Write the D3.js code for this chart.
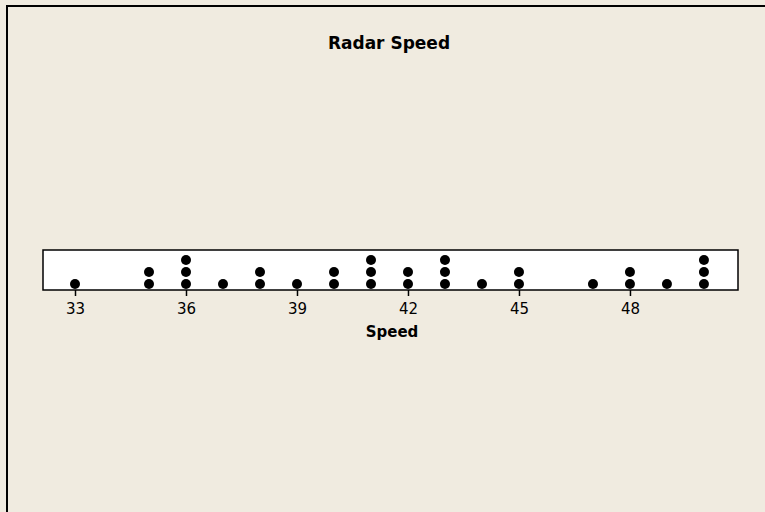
<!DOCTYPE html>
<html>
<head>
<meta charset="utf-8">
<script src="https://cdn.jsdelivr.net/npm/d3@7"></script>
<style>
  body { margin: 0; background: #f0ebe0; }
  svg { display: block; }
</style>
</head>
<body>
<div id="main"></div>
<script>
const width = 765;
const height = 512;

// speed values and how many dots sit on each
const speeds = [33, 35, 36, 37, 38, 39, 40, 41, 42, 43, 44, 45, 47, 48, 49, 50];
const counts = [1, 2, 3, 1, 2, 1, 2, 3, 2, 3, 1, 2, 1, 2, 1, 3];
const tickValues = [33, 36, 39, 42, 45, 48];

const box = { left: 43, right: 738, top: 250, bottom: 290 };

const svg = d3.select("#main")
  .append("svg")
  .attr("width", width)
  .attr("height", height)
  .style("background", "#f0ebe0");

// frame line on left and top
svg.append("path")
  .attr("d", `M7,${height} L7,6 L${width},6`)
  .attr("fill", "none")
  .attr("stroke", "#000")
  .attr("stroke-width", 2);

svg.append("text")
  .attr("x", 389)
  .attr("y", 49)
  .attr("text-anchor", "middle")
  .style("font-family", "'DejaVu Sans', sans-serif")
  .style("font-weight", "bold")
  .style("font-size", "17px")
  .text("Radar Speed");

const x = d3.scaleLinear()
  .domain([32.135, 50.92])
  .range([box.left, box.right]);

svg.append("rect")
  .attr("x", box.left)
  .attr("y", box.top)
  .attr("width", box.right - box.left)
  .attr("height", box.bottom - box.top)
  .attr("fill", "#fff")
  .attr("stroke", "#000")
  .attr("stroke-width", 1.5);

const axis = d3.axisBottom(x)
  .tickValues(tickValues)
  .tickSize(6)
  .tickSizeOuter(0)
  .tickPadding(7);

const gAxis = svg.append("g")
  .attr("transform", `translate(0,${box.bottom})`)
  .call(axis);
gAxis.select(".domain").remove();
gAxis.selectAll(".tick line").attr("stroke", "#000").attr("stroke-width", 1.5);
gAxis.selectAll(".tick text")
  .attr("fill", "#000")
  .style("font-family", "'DejaVu Sans', sans-serif")
  .style("font-size", "15px");

svg.append("text")
  .attr("x", 392)
  .attr("y", 337)
  .attr("text-anchor", "middle")
  .style("font-family", "'DejaVu Sans', sans-serif")
  .style("font-weight", "bold")
  .style("font-size", "15px")
  .text("Speed");

// stack the dots
const dots = [];
speeds.forEach((s, i) => {
  for (let k = 0; k < counts[i]; k++) dots.push({ speed: s, level: k });
});

const y = d3.scaleLinear().domain([0, 1]).range([284, 272]);

svg.append("g")
  .selectAll("circle")
  .data(dots)
  .join("circle")
  .attr("cx", (d) => x(d.speed))
  .attr("cy", (d) => y(d.level))
  .attr("r", 5)
  .attr("fill", "#000");
</script>
</body>
</html>
